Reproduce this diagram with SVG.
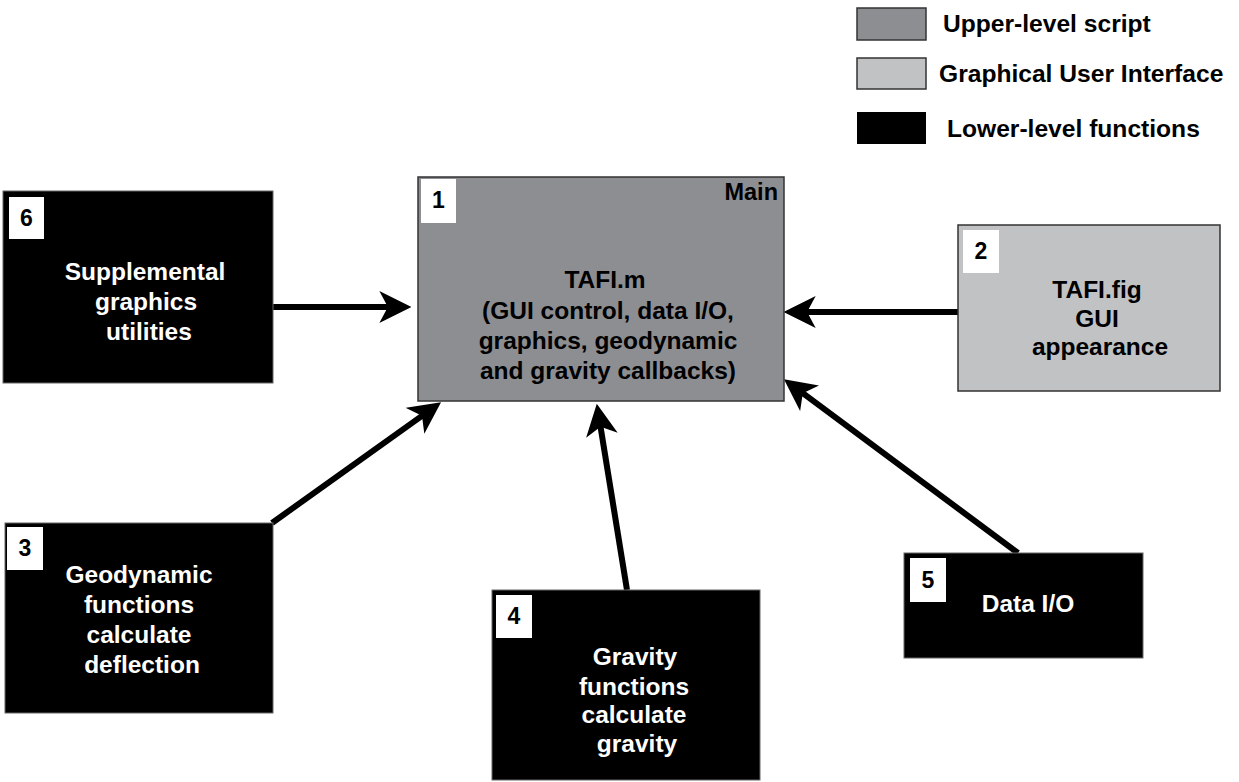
<svg xmlns="http://www.w3.org/2000/svg" width="1239" height="782" viewBox="0 0 1239 782">
<style>
text{font-family:"Liberation Sans",Arial,sans-serif;font-weight:bold}
.lbl{font-size:24.5px;text-anchor:middle}
.w{fill:#fff}
.k{fill:#000}
.num{font-size:23px;text-anchor:middle;fill:#000}
.nbox{fill:#fff}
.low{fill:#000;stroke:#666;stroke-width:1}
.up{fill:#8d8e92;stroke:#333;stroke-width:1.5}
.gui{fill:#c1c2c4;stroke:#333;stroke-width:1.5}
.leg{font-size:24.6px;fill:#000}
.conn{stroke:#000;stroke-width:6;fill:none;marker-end:url(#ah)}
</style>
<defs>
<marker id="ah" markerUnits="userSpaceOnUse" markerWidth="32" markerHeight="32" viewBox="0 0 30 30" refX="10" refY="15" orient="auto">
<path d="M30,15 L0,0 L8,15 L0,30 Z" fill="#000"/>
</marker>
</defs>
<rect width="1239" height="782" fill="#fff"/>
<g id="legend">
<rect x="857" y="8" width="69" height="32" class="up"/>
<text x="943" y="32" class="leg">Upper-level script</text>
<rect x="857" y="58" width="69" height="31" class="gui"/>
<text x="939" y="82" class="leg">Graphical User Interface</text>
<rect x="857" y="112" width="69" height="32" fill="#000"/>
<text x="947" y="137" class="leg">Lower-level functions</text>
</g>
<g id="connectors">
<line x1="273" y1="307" x2="390" y2="307" class="conn"/>
<line x1="958" y1="312" x2="805" y2="312" class="conn"/>
<line x1="272" y1="523" x2="423.7" y2="414.6" class="conn"/>
<line x1="627" y1="590" x2="600.2" y2="424.7" class="conn"/>
<line x1="1018" y1="553" x2="801.1" y2="391.9" class="conn"/>
</g>
<g id="node1">
<rect x="418" y="177" width="366" height="224" class="up"/>
<rect x="421" y="179" width="35" height="44" class="nbox"/>
<text x="438.5" y="208" class="num">1</text>
<text x="778" y="200" font-size="23.5" text-anchor="end" fill="#000">Main</text>
<text x="605" y="288" class="lbl k">TAFI.m</text>
<text x="608" y="319" class="lbl k">(GUI control, data I/O,</text>
<text x="608" y="349" class="lbl k">graphics, geodynamic</text>
<text x="608" y="379" class="lbl k">and gravity callbacks)</text>
</g>
<g id="node2">
<rect x="958" y="225" width="262" height="166" class="gui"/>
<rect x="963" y="230" width="36" height="43" class="nbox"/>
<text x="981" y="259" class="num">2</text>
<text x="1097" y="298" class="lbl k">TAFI.fig</text>
<text x="1097" y="327" class="lbl k">GUI</text>
<text x="1100" y="355" class="lbl k">appearance</text>
</g>
<g id="node6">
<rect x="3" y="191" width="270" height="192" class="low"/>
<rect x="9" y="197" width="35" height="42" class="nbox"/>
<text x="26.5" y="226" class="num">6</text>
<text x="145" y="280" class="lbl w">Supplemental</text>
<text x="146" y="310" class="lbl w">graphics</text>
<text x="149" y="340" class="lbl w">utilities</text>
</g>
<g id="node3">
<rect x="5" y="523" width="268" height="190" class="low"/>
<rect x="7" y="527" width="36" height="43" class="nbox"/>
<text x="25" y="556" class="num">3</text>
<text x="139" y="583" class="lbl w">Geodynamic</text>
<text x="139" y="613" class="lbl w">functions</text>
<text x="139" y="643" class="lbl w">calculate</text>
<text x="142" y="673" class="lbl w">deflection</text>
</g>
<g id="node4">
<rect x="492" y="590" width="268" height="190" class="low"/>
<rect x="496" y="595" width="36" height="43" class="nbox"/>
<text x="514" y="624" class="num">4</text>
<text x="635" y="665" class="lbl w">Gravity</text>
<text x="634" y="695" class="lbl w">functions</text>
<text x="634" y="723" class="lbl w">calculate</text>
<text x="637" y="752" class="lbl w">gravity</text>
</g>
<g id="node5">
<rect x="904" y="553" width="239" height="105" class="low"/>
<rect x="910" y="558" width="36" height="44" class="nbox"/>
<text x="928" y="588" class="num">5</text>
<text x="1028" y="612" class="lbl w">Data I/O</text>
</g>
</svg>
